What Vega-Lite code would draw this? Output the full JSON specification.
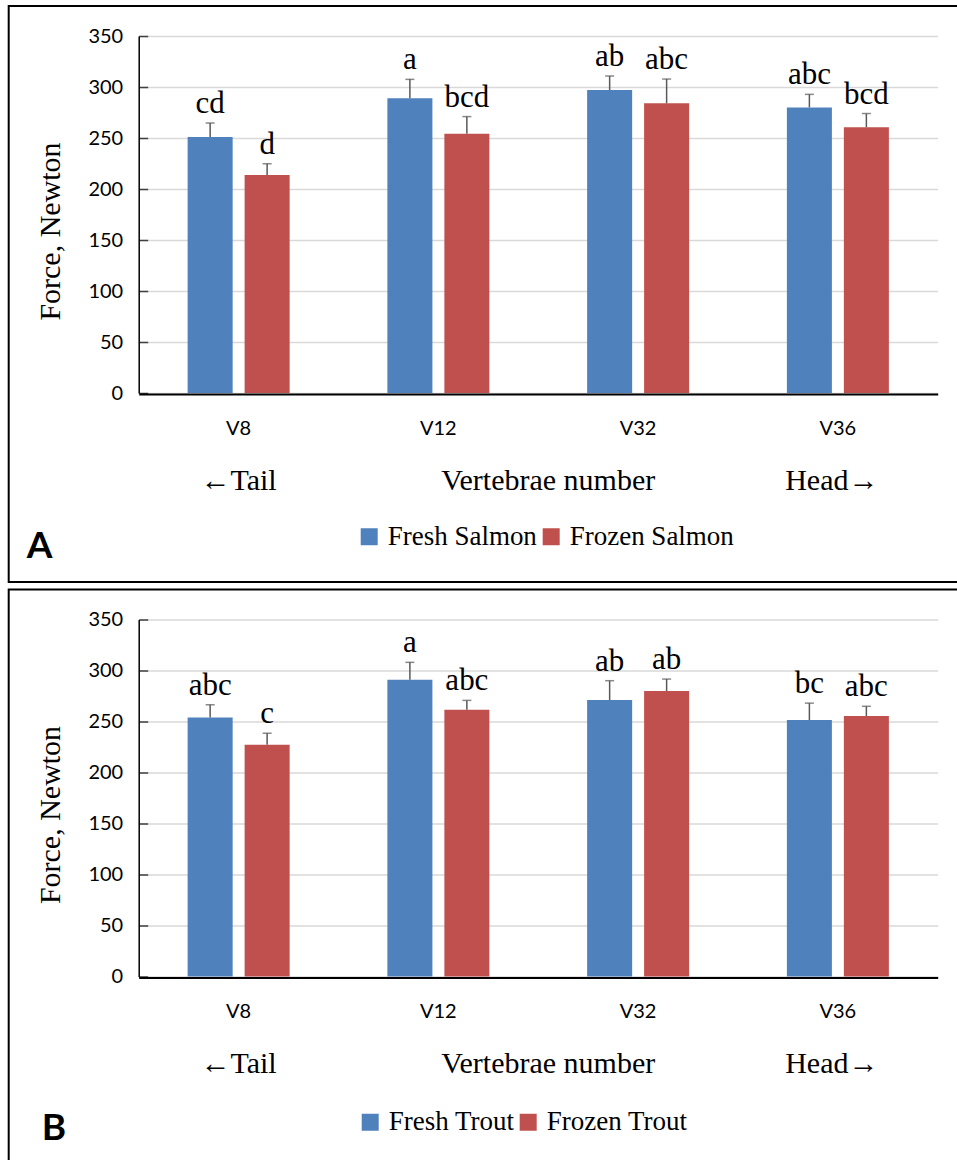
{
  "$schema": "https://vega.github.io/schema/vega-lite/v6.json",
  "padding": {"left": 7.7, "top": 5, "right": -5, "bottom": -6},
  "spacing": 5.5,
  "background": "white",
  "config": {
    "view": {"stroke": "black", "strokeWidth": 2},
    "axis": {"labelColor": "black", "titleColor": "black", "titleFontWeight": "normal"},
    "legend": {"orient": "none", "legendX": 347, "legendY": 517, "direction": "horizontal", "symbolType": "square", "symbolSize": 289, "symbolStrokeWidth": 0, "labelFont": "Liberation Serif", "labelFontSize": 27, "labelColor": "black", "labelOffset": 5, "columnPadding": 0, "padding": 0, "labelLimit": 400},
    "title": {"font": "Lato", "fontSize": 37, "fontWeight": "bold", "color": "black"}
  },
  "vconcat": [
    {
      "width": 952,
      "height": 576,
      "title": {"text": "A", "orient": "bottom", "anchor": "start", "frame": "group", "offset": -24, "baseline": "alphabetic", "dx": 18},
      "data": {"values": [
        {"cat": "V8", "state": "Fresh", "series": "Fresh Salmon", "force": 251, "upper": 264.7, "letters": "cd"},
        {"cat": "V8", "state": "Frozen", "series": "Frozen Salmon", "force": 213.7, "upper": 224.8, "letters": "d"},
        {"cat": "V12", "state": "Fresh", "series": "Fresh Salmon", "force": 288.9, "upper": 307.5, "letters": "a"},
        {"cat": "V12", "state": "Frozen", "series": "Frozen Salmon", "force": 254.2, "upper": 271, "letters": "bcd"},
        {"cat": "V32", "state": "Fresh", "series": "Fresh Salmon", "force": 297, "upper": 310.8, "letters": "ab"},
        {"cat": "V32", "state": "Frozen", "series": "Frozen Salmon", "force": 284, "upper": 307.8, "letters": "abc"},
        {"cat": "V36", "state": "Fresh", "series": "Fresh Salmon", "force": 280, "upper": 292.8, "letters": "abc"},
        {"cat": "V36", "state": "Frozen", "series": "Frozen Salmon", "force": 260.5, "upper": 274, "letters": "bcd"}
      ]},
      "resolve": {"axis": {"x": "independent"}, "legend": {"color": "independent"}, "scale": {"color": "independent"}},
      "layer": [
        {
          "mark": {"type": "bar"},
          "encoding": {
            "x": {"field": "cat", "type": "nominal", "sort": null,
              "scale": {"domain": ["V8", "V12", "V32", "V36"], "range": [130, 929], "paddingInner": 0.49, "paddingOuter": 0.245},
              "axis": {"orient": "bottom", "offset": -188, "zindex": 1, "domain": true, "domainColor": "black", "domainWidth": 2, "ticks": false, "grid": false, "labelAngle": 0, "labelFont": "Lato", "labelFontSize": 20, "labelBaseline": "alphabetic", "labelPadding": 40, "title": null}},
            "xOffset": {"field": "state", "type": "nominal", "scale": {"domain": ["Fresh", "Frozen"], "range": [0, 102], "paddingInner": 0.21, "paddingOuter": 0}},
            "y": {"field": "force", "type": "quantitative", "title": "Force, Newton",
              "scale": {"domain": [0, 350], "range": [387, 30], "nice": false},
              "axis": {"orient": "left", "offset": -130, "values": [0, 50, 100, 150, 200, 250, 300, 350], "domainColor": "black", "domainWidth": 1.5, "ticks": true, "tickColor": "#404040", "tickSize": -9, "tickWidth": 1.5, "labelFont": "Lato", "labelFontSize": 20, "labelPadding": 25, "grid": true, "gridColor": "#d9d9d9", "gridWidth": 1.5, "titleFont": "Liberation Serif", "titleFontSize": 30, "titleX": -88, "titleY": 225, "titleAngle": 270, "titleBaseline": "middle", "titleAlign": "center"}},
            "color": {"field": "series", "type": "nominal", "title": null, "scale": {"domain": ["Fresh Salmon", "Frozen Salmon"], "range": ["#4F81BD", "#C0504D"]}}
          }
        },
        {
          "mark": {"type": "rule", "color": "#595959", "strokeWidth": 1.5},
          "encoding": {
            "x": {"field": "cat", "type": "nominal", "sort": null,
              "axis": {"orient": "bottom", "offset": -188, "domain": false, "ticks": false, "grid": false, "labelAngle": 0, "labelFont": "Liberation Serif", "labelFontSize": 30, "labelBaseline": "alphabetic", "labelPadding": 95, "labelOverlap": false,
                "labelExpr": "datum.value == 'V8' ? '←Tail' : (datum.value == 'V36' ? 'Head→' : '')",
                "labelOffset": {"condition": {"test": "datum.value === 'V36'", "value": -6}, "value": 0},
                "title": "Vertebrae number", "titleFont": "Liberation Serif", "titleFontSize": 30, "titleX": 539, "titleY": 95, "titleBaseline": "alphabetic", "titleAlign": "center"}},
            "xOffset": {"field": "state", "type": "nominal"},
            "y": {"field": "force", "type": "quantitative", "title": "Force, Newton"},
            "y2": {"field": "upper"}
          }
        },
        {
          "mark": {"type": "tick", "color": "#595959", "size": 9, "thickness": 1.5},
          "encoding": {
            "x": {"field": "cat", "type": "nominal", "sort": null, "axis": null},
            "xOffset": {"field": "state", "type": "nominal"},
            "y": {"field": "upper", "type": "quantitative", "title": "Force, Newton"}
          }
        },
        {
          "mark": {"type": "text", "dy": -10, "baseline": "alphabetic", "font": "Liberation Serif", "fontSize": 31, "color": "black"},
          "encoding": {
            "x": {"field": "cat", "type": "nominal", "sort": null, "axis": null},
            "xOffset": {"field": "state", "type": "nominal"},
            "y": {"field": "upper", "type": "quantitative", "title": "Force, Newton"},
            "text": {"field": "letters"}
          }
        }
      ]
    },
    {
      "width": 952,
      "height": 576,
      "title": {"text": "B", "orient": "bottom", "anchor": "start", "frame": "group", "offset": -25, "baseline": "alphabetic", "dx": 33},
      "data": {"values": [
        {"cat": "V8", "state": "Fresh", "series": "Fresh Trout", "force": 254, "upper": 266.4, "letters": "abc"},
        {"cat": "V8", "state": "Frozen", "series": "Frozen Trout", "force": 227.3, "upper": 238.4, "letters": "c"},
        {"cat": "V12", "state": "Fresh", "series": "Fresh Trout", "force": 291, "upper": 308, "letters": "a"},
        {"cat": "V12", "state": "Frozen", "series": "Frozen Trout", "force": 261.5, "upper": 270.7, "letters": "abc"},
        {"cat": "V32", "state": "Fresh", "series": "Fresh Trout", "force": 271, "upper": 290, "letters": "ab"},
        {"cat": "V32", "state": "Frozen", "series": "Frozen Trout", "force": 279.8, "upper": 291.6, "letters": "ab"},
        {"cat": "V36", "state": "Fresh", "series": "Fresh Trout", "force": 251.5, "upper": 268, "letters": "bc"},
        {"cat": "V36", "state": "Frozen", "series": "Frozen Trout", "force": 255.4, "upper": 264.9, "letters": "abc"}
      ]},
      "resolve": {"axis": {"x": "independent"}, "legend": {"color": "independent"}, "scale": {"color": "independent"}},
      "layer": [
        {
          "mark": {"type": "bar"},
          "encoding": {
            "x": {"field": "cat", "type": "nominal", "sort": null,
              "scale": {"domain": ["V8", "V12", "V32", "V36"], "range": [130, 929], "paddingInner": 0.49, "paddingOuter": 0.245},
              "axis": {"orient": "bottom", "offset": -188, "zindex": 1, "domain": true, "domainColor": "black", "domainWidth": 2, "ticks": false, "grid": false, "labelAngle": 0, "labelFont": "Lato", "labelFontSize": 20, "labelBaseline": "alphabetic", "labelPadding": 40, "title": null}},
            "xOffset": {"field": "state", "type": "nominal", "scale": {"domain": ["Fresh", "Frozen"], "range": [0, 102], "paddingInner": 0.21, "paddingOuter": 0}},
            "y": {"field": "force", "type": "quantitative", "title": "Force, Newton",
              "scale": {"domain": [0, 350], "range": [387, 30], "nice": false},
              "axis": {"orient": "left", "offset": -130, "values": [0, 50, 100, 150, 200, 250, 300, 350], "domainColor": "black", "domainWidth": 1.5, "ticks": true, "tickColor": "#404040", "tickSize": -9, "tickWidth": 1.5, "labelFont": "Lato", "labelFontSize": 20, "labelPadding": 25, "grid": true, "gridColor": "#d9d9d9", "gridWidth": 1.5, "titleFont": "Liberation Serif", "titleFontSize": 30, "titleX": -88, "titleY": 225, "titleAngle": 270, "titleBaseline": "middle", "titleAlign": "center"}},
            "color": {"field": "series", "type": "nominal", "title": null, "scale": {"domain": ["Fresh Trout", "Frozen Trout"], "range": ["#4F81BD", "#C0504D"]}, "legend": {"legendX": 348, "legendY": 519}}
          }
        },
        {
          "mark": {"type": "rule", "color": "#595959", "strokeWidth": 1.5},
          "encoding": {
            "x": {"field": "cat", "type": "nominal", "sort": null,
              "axis": {"orient": "bottom", "offset": -188, "domain": false, "ticks": false, "grid": false, "labelAngle": 0, "labelFont": "Liberation Serif", "labelFontSize": 30, "labelBaseline": "alphabetic", "labelPadding": 95, "labelOverlap": false,
                "labelExpr": "datum.value == 'V8' ? '←Tail' : (datum.value == 'V36' ? 'Head→' : '')",
                "labelOffset": {"condition": {"test": "datum.value === 'V36'", "value": -6}, "value": 0},
                "title": "Vertebrae number", "titleFont": "Liberation Serif", "titleFontSize": 30, "titleX": 539, "titleY": 95, "titleBaseline": "alphabetic", "titleAlign": "center"}},
            "xOffset": {"field": "state", "type": "nominal"},
            "y": {"field": "force", "type": "quantitative", "title": "Force, Newton"},
            "y2": {"field": "upper"}
          }
        },
        {
          "mark": {"type": "tick", "color": "#595959", "size": 9, "thickness": 1.5},
          "encoding": {
            "x": {"field": "cat", "type": "nominal", "sort": null, "axis": null},
            "xOffset": {"field": "state", "type": "nominal"},
            "y": {"field": "upper", "type": "quantitative", "title": "Force, Newton"}
          }
        },
        {
          "mark": {"type": "text", "dy": -10, "baseline": "alphabetic", "font": "Liberation Serif", "fontSize": 31, "color": "black"},
          "encoding": {
            "x": {"field": "cat", "type": "nominal", "sort": null, "axis": null},
            "xOffset": {"field": "state", "type": "nominal"},
            "y": {"field": "upper", "type": "quantitative", "title": "Force, Newton"},
            "text": {"field": "letters"}
          }
        }
      ]
    }
  ]
}
